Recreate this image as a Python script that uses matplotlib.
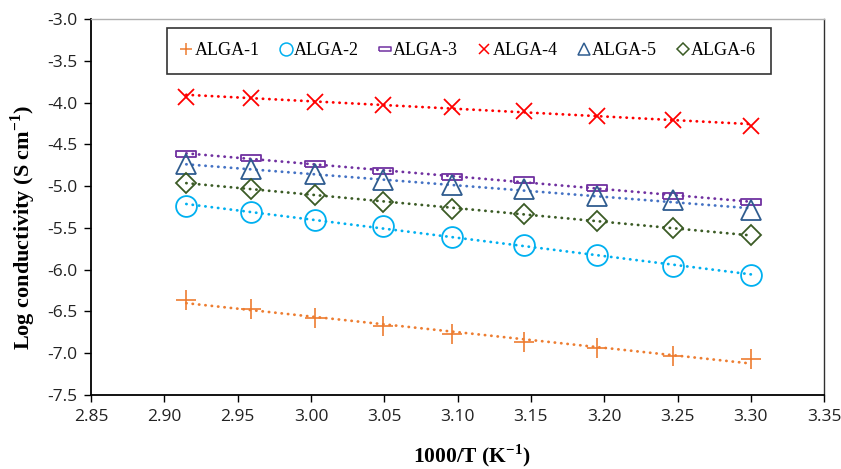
import matplotlib.pyplot as plt
import numpy as np
from matplotlib.lines import Line2D

plt.rcParams['font.family'] = ['Open Sans', 'DejaVu Sans']

# 1000/T values (T = 343 ... 303 K)
inv_t = [2.915, 2.959, 3.003, 3.049, 3.096, 3.145, 3.195, 3.247, 3.300]

alga1 = [-6.36, -6.47, -6.58, -6.67, -6.77, -6.86, -6.94, -7.03, -7.07]
alga2 = [-5.24, -5.31, -5.40, -5.48, -5.61, -5.71, -5.82, -5.96, -6.06]
alga3 = [-4.62, -4.66, -4.74, -4.82, -4.89, -4.93, -5.02, -5.12, -5.19]
alga4 = [-3.93, -3.94, -3.99, -4.03, -4.05, -4.10, -4.16, -4.21, -4.28]
alga5 = [-4.74, -4.80, -4.86, -4.93, -4.99, -5.04, -5.12, -5.17, -5.29]
alga6 = [-4.96, -5.03, -5.11, -5.19, -5.27, -5.33, -5.42, -5.50, -5.59]

names = ['ALGA-1', 'ALGA-2', 'ALGA-3', 'ALGA-4', 'ALGA-5', 'ALGA-6']
series = [alga1, alga2, alga3, alga4, alga5, alga6]

# Excel "dash" marker: a small hollow bar
bar = [(-1, -0.28), (1, -0.28), (1, 0.28), (-1, 0.28), (-1, -0.28)]

styles = [
    dict(marker='+', color='#ED7D31', line='#ED7D31', ms=14, mew=1.2),
    dict(marker='o', color='#00B0F0', line='#00B0F0', ms=15, mew=1.3),
    dict(marker=bar, color='#7030A0', line='#7030A0', ms=14, mew=1.3),
    dict(marker='x', color='#FF0000', line='#FF0000', ms=12, mew=1.3),
    dict(marker='^', color='#2F5C8F', line='#4472C4', ms=14, mew=1.3),
    dict(marker='D', color='#3B5B25', line='#3B5B25', ms=10, mew=1.3),
]

fig = plt.figure(figsize=(8.41, 4.69), dpi=100)
ax = fig.add_axes([0.1082, 0.1578, 0.8718, 0.8017])

handles = []
x = np.array(inv_t)
for name, y, st in zip(names, series, styles):
    y = np.array(y)
    k, b = np.polyfit(x, y, 1)
    ax.plot(x, k * x + b, color=st['line'], lw=2.0,
            linestyle=(0, (0.1, 2.2)), dash_capstyle='round', zorder=2)
    ax.plot(x, y, linestyle='none', marker=st['marker'], ms=st['ms'],
            mew=st['mew'], mec=st['color'], mfc='none', zorder=3)
    handles.append(Line2D([], [], linestyle='none', marker=st['marker'],
                          ms=st['ms'] * 0.62, mew=1.1, mec=st['color'],
                          mfc='none', label=name))

ax.set_xlim(2.85, 3.35)
ax.set_ylim(-7.5, -3.0)
ax.set_xticks(np.arange(2.85, 3.351, 0.05))
ax.set_yticks(np.arange(-7.5, -2.99, 0.5))
ax.set_xticklabels([f'{v:.2f}' for v in np.arange(2.85, 3.351, 0.05)])
ax.set_yticklabels([f'{v:.1f}' for v in np.arange(-7.5, -2.99, 0.5)])
ax.tick_params(direction='out', length=5, width=1, labelsize=12.5, pad=5,
               labelcolor='#222222')

ax.spines['left'].set_linewidth(1.3)
ax.spines['bottom'].set_linewidth(1.3)
ax.spines['top'].set_color('#b0b0b0')
ax.spines['top'].set_linewidth(1)
ax.spines['right'].set_color('#303030')
ax.spines['right'].set_linewidth(1)

ax.set_xlabel('1000/T (K$^{\\mathregular{-1}}$)', fontsize=15.5, fontweight='bold',
              family='Liberation Serif')
ax.set_ylabel('Log conductivity (S cm$^{\\mathregular{-1}}$)', fontsize=16,
              fontweight='bold', family='Liberation Serif')
ax.xaxis.set_label_coords(0.52, -0.125)
ax.yaxis.set_label_coords(-0.072, 0.445)

leg = ax.legend(handles=handles, ncol=6, loc='upper center',
                bbox_to_anchor=(0.515, 0.977), frameon=True, fancybox=False,
                edgecolor='black', handlelength=0.6, handletextpad=0.15,
                columnspacing=1.15, borderpad=0.8, borderaxespad=0,
                prop={'family': 'Liberation Serif', 'size': 13})
leg.get_frame().set_linewidth(1.2)

fig.savefig('out.png', dpi=100)
